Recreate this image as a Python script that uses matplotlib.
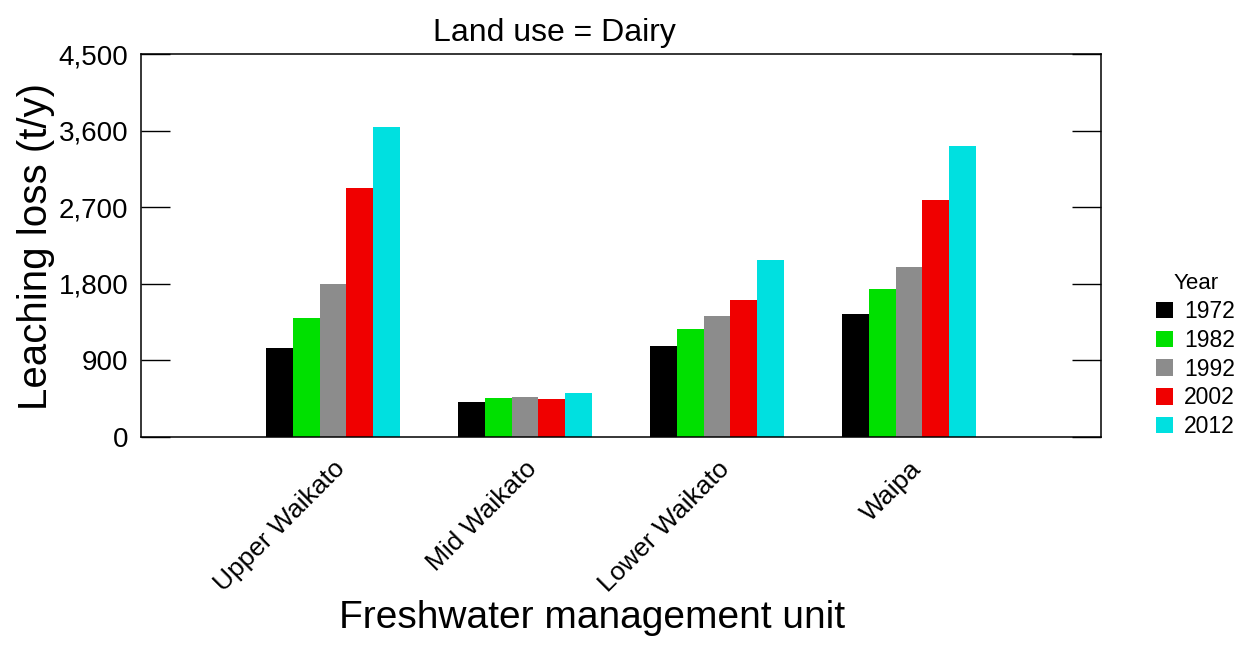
import numpy as np
import matplotlib.pyplot as plt
from matplotlib.ticker import FuncFormatter

plt.rcParams['font.family'] = ['Liberation Sans', 'DejaVu Sans']

units = ['Upper Waikato', 'Mid Waikato', 'Lower Waikato', 'Waipa']
years = ['1972', '1982', '1992', '2002', '2012']
loss_1972 = [1041, 417, 1074, 1449]
loss_1982 = [1402, 458, 1266, 1739]
loss_1992 = [1801, 475, 1418, 1993]
loss_2002 = [2929, 446, 1606, 2789]
loss_2012 = [3638, 522, 2080, 3423]
series = [loss_1972, loss_1982, loss_1992, loss_2002, loss_2012]
colors = ['#000000', '#00e000', '#8c8c8c', '#f00000', '#00e0e0']

fig = plt.figure(figsize=(12.39, 6.46), dpi=100)
ax = fig.add_axes([141 / 1239, 209 / 646, 960 / 1239, 383 / 646])

x = np.arange(1, len(units) + 1)
w = 0.14
for i, (vals, yr, c) in enumerate(zip(series, years, colors)):
    ax.bar(x + (i - 2) * w, vals, width=w, color=c, label=yr, linewidth=0)

ax.set_xlim(0, 5)
ax.set_ylim(0, 4500)
ax.set_yticks(np.arange(0, 4501, 900))
ax.yaxis.set_major_formatter(FuncFormatter(lambda v, p: f'{int(v):,}'))
ax.tick_params(axis='y', direction='in', length=21, width=1, labelsize=20,
               pad=9, left=True, right=True)
ax.set_xticks(x)
ax.set_xticklabels(units, rotation=45, ha='right', rotation_mode='anchor',
                   fontsize=19)
ax.tick_params(axis='x', length=0, pad=14)
for s in ax.spines.values():
    s.set_linewidth(1.1)

fig.text(554 / 1239, 1 - 33 / 646, 'Land use = Dairy', ha='center',
         va='center', fontsize=23)
fig.text(592 / 1239, 1 - 618 / 646, 'Freshwater management unit',
         ha='center', va='center', fontsize=28)
fig.text(36 / 1239, 1 - 247 / 646, 'Leaching loss (t/y)', ha='center',
         va='center', rotation=90, fontsize=29)

leg = ax.legend(title='Year', loc='center left',
                bbox_to_anchor=(1.048, 0.212), frameon=False, fontsize=16.5,
                title_fontsize=16, handlelength=0.72, handleheight=0.72,
                handletextpad=0.5, labelspacing=0.25, borderaxespad=0)

fig.savefig('out.png', dpi=100)
